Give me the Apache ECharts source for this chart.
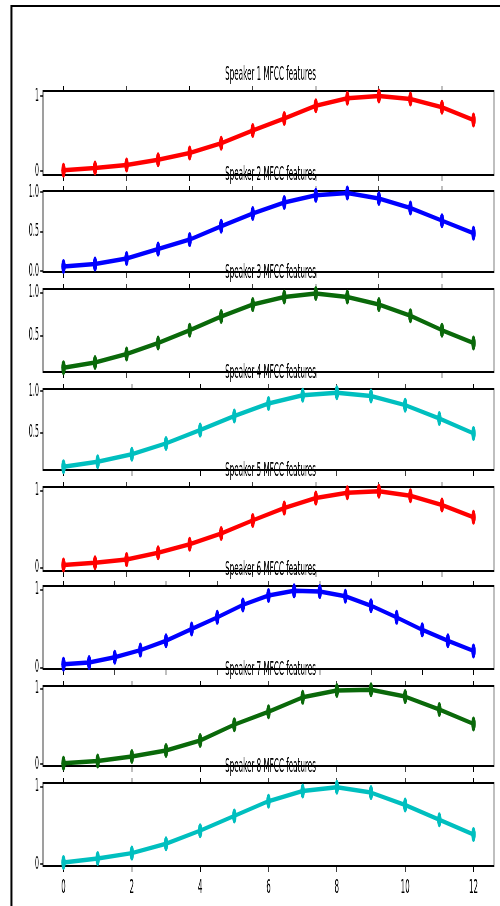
<!DOCTYPE html>
<html><head><meta charset="utf-8">
<script src="https://cdn.jsdelivr.net/npm/echarts@6/dist/echarts.min.js"></script>
<style>
html,body{margin:0;padding:0;background:#fff;overflow:hidden;width:500px;height:906px}
#wrap{width:500px;height:906px;overflow:hidden;position:relative}
#chart{width:1250px;height:906px;transform:scaleX(0.4);transform-origin:0 0;position:absolute;left:0;top:0}
</style></head><body><div id="wrap"><div id="chart"></div></div>
<script>
// ---- data ----
const titles = ['Speaker 1 MFCC features','Speaker 2 MFCC features','Speaker 3 MFCC features','Speaker 4 MFCC features',
                'Speaker 5 MFCC features','Speaker 6 MFCC features','Speaker 7 MFCC features','Speaker 8 MFCC features'];
const spk1 = [0.01, 0.04, 0.08, 0.15, 0.24, 0.37, 0.54, 0.70, 0.87, 0.97, 1.00, 0.96, 0.85, 0.68];
const spk2 = [0.06, 0.09, 0.16, 0.28, 0.40, 0.57, 0.73, 0.87, 0.96, 0.99, 0.92, 0.80, 0.64, 0.48];
const spk3 = [0.12, 0.18, 0.28, 0.41, 0.56, 0.72, 0.86, 0.95, 0.99, 0.95, 0.86, 0.73, 0.56, 0.41];
const spk4 = [0.09, 0.15, 0.24, 0.37, 0.53, 0.70, 0.85, 0.95, 0.98, 0.94, 0.83, 0.67, 0.49];
const spk5 = [0.03, 0.06, 0.10, 0.19, 0.30, 0.44, 0.61, 0.77, 0.90, 0.97, 0.99, 0.93, 0.81, 0.65];
const spk6 = [0.04, 0.06, 0.13, 0.22, 0.34, 0.49, 0.64, 0.80, 0.92, 0.98, 0.97, 0.91, 0.79, 0.64, 0.48, 0.34, 0.21];
const spk7 = [0.01, 0.04, 0.10, 0.18, 0.31, 0.52, 0.69, 0.88, 0.97, 0.98, 0.89, 0.72, 0.53];
const spk8 = [0.02, 0.07, 0.14, 0.26, 0.43, 0.62, 0.81, 0.94, 0.99, 0.92, 0.76, 0.57, 0.38];
const series = [spk1, spk2, spk3, spk4, spk5, spk6, spk7, spk8];
const colors = ['#ff0000','#0000ff','#0a690a','#00bfbf','#ff0000','#0000ff','#0a690a','#00bfbf'];
const xTicks12 = [0, 2, 4, 6, 8, 10, 12];
const xTicks16 = [0, 2, 4, 6, 8, 10, 12, 14, 16];
const yTicks01 = [0, 1];
const yTicks0051 = [0, 0.5, 1];
const yTicks051 = [0.5, 1];
const yTicks = [yTicks01, yTicks0051, yTicks051, yTicks051, yTicks01, yTicks01, yTicks01, yTicks01];
const yDecimals = [0, 1, 1, 1, 0, 0, 0, 0];
const yMin = [-0.053, -0.01, 0.069, 0.05, -0.048, -0.022, -0.026, -0.026];
const yMax = [1.067, 1.015, 1.043, 1.024, 1.044, 1.042, 1.03, 1.044];

// ---- layout ----
const S = 0.4, W = 500 / S;
const px = x => x / S;
const tops = [91, 191, 289, 389, 487, 586, 686, 783];
const bottoms = [175, 272, 372, 470, 571, 669, 766, 866];
const FONT = '"DejaVu Sans Condensed", "DejaVu Sans", sans-serif';

const grid = [], xAxis = [], yAxis = [], seriesOpt = [], title = [];
series.forEach((arr, i) => {
  const n = arr.length - 1;
  const pad = n * 0.05;
  const xt = n > 13 ? xTicks16 : xTicks12;
  grid.push({left: px(43), right: W - px(494), top: tops[i], height: bottoms[i] - tops[i],
    show: true, borderColor: '#000', borderWidth: 2, backgroundColor: '#fff'});
  title.push({text: titles[i], left: px(268.5), textAlign: 'center', top: tops[i] - 31,
    textStyle: {fontFamily: FONT, fontSize: 20, fontWeight: 'normal', color: '#000'}});
  xAxis[i] = {gridIndex: i, type: 'value', min: -pad, max: n + pad, position: 'bottom',
    axisLine: {show: false, onZero: false}, splitLine: {show: false},
    axisTick: {show: true, length: 6, customValues: xt, lineStyle: {color: '#000', width: 2}},
    axisLabel: {show: i === 7, customValues: xt, margin: 12, fontSize: 20, color: '#000', fontFamily: FONT}};
  xAxis[i + 8] = {gridIndex: i, type: 'value', min: -pad, max: n + pad, position: 'top',
    axisLine: {show: false, onZero: false}, splitLine: {show: false},
    axisTick: {show: true, length: 5, customValues: xt, lineStyle: {color: '#000', width: 2}},
    axisLabel: {show: false, customValues: xt}};
  yAxis.push({gridIndex: i, type: 'value', min: yMin[i], max: yMax[i],
    axisLine: {show: false, onZero: false}, splitLine: {show: false},
    axisTick: {show: true, length: 7, customValues: yTicks[i], lineStyle: {color: '#000', width: 1.5}},
    axisLabel: {customValues: yTicks[i], margin: 10, fontSize: 18, color: '#000', fontFamily: FONT,
      formatter: v => Number(v).toFixed(yDecimals[i])}});
  seriesOpt.push({type: 'line', xAxisIndex: i, yAxisIndex: i, data: arr.map((v, j) => [j, v]),
    symbol: 'circle', symbolSize: [11, 15], showSymbol: true, showAllSymbol: true,
    lineStyle: {width: 4.5, color: colors[i]}, itemStyle: {color: colors[i]}, z: 3});
});

const chart = echarts.init(document.getElementById('chart'), null, {renderer: 'canvas'});
chart.setOption({
  animation: false,
  backgroundColor: '#fff',
  title, grid, xAxis, yAxis, series: seriesOpt,
  graphic: [
    {type: 'line', shape: {x1: px(11), y1: 6, x2: W, y2: 6}, style: {stroke: '#000', lineWidth: 2}, z: 100},
    {type: 'line', shape: {x1: px(11.5), y1: 5, x2: px(11.5), y2: 906}, style: {stroke: '#000', lineWidth: 5}, z: 100}
  ]
});
</script></body></html>
